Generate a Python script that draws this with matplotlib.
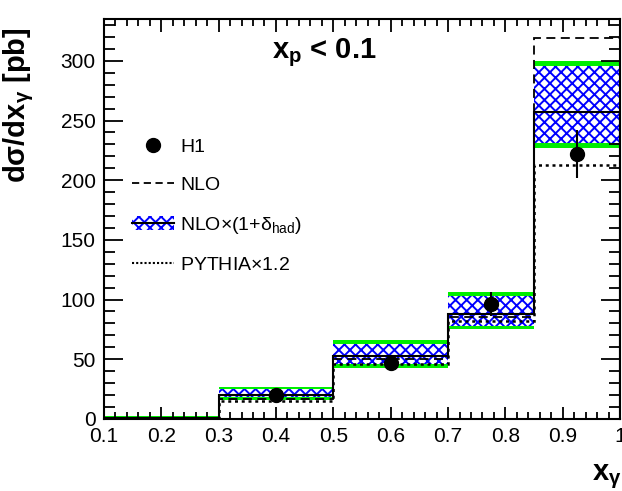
import matplotlib
matplotlib.use("Agg")
import matplotlib.pyplot as plt
from matplotlib.lines import Line2D
from matplotlib.patches import Patch
from matplotlib.ticker import MultipleLocator

plt.rcParams['font.family'] = ['Liberation Sans', 'DejaVu Sans']
plt.rcParams['hatch.linewidth'] = 1.4
plt.rcParams['mathtext.fontset'] = 'custom'
plt.rcParams['mathtext.rm'] = 'Liberation Sans'
plt.rcParams['mathtext.it'] = 'Liberation Sans'
plt.rcParams['mathtext.bf'] = 'Liberation Sans:bold'

# --------- DATA ---------
bin_edges = [0.1, 0.3, 0.5, 0.7, 0.85, 1.0]
nlo = [1, 17, 50, 85, 319]
nlo_had = [1, 20, 53, 88, 257]
nlo_had_lo = [0, 16, 43, 75, 227]
nlo_had_hi = [2, 27, 66, 106, 300]
nlo_had_lo_in = [0.5, 18, 46, 78, 231]
nlo_had_hi_in = [1.5, 25, 63, 103, 296]
pythia = [1, 15, 46, 82, 213]

h1_x = [0.4, 0.6, 0.775, 0.925]
h1_y = [20, 47, 96, 222]
h1_err = [3, 4, 10, 20]

# --------- PLOT ---------
fig = plt.figure(figsize=(6.22, 4.91), dpi=100)
ax = fig.add_axes([0.167, 0.147, 0.83, 0.814])

ax.stairs(nlo_had_hi, bin_edges, baseline=nlo_had_lo, fill=True,
          color='#00ee00', linewidth=0, zorder=1)
ax.stairs(nlo_had_hi_in, bin_edges, baseline=nlo_had_lo_in, fill=True,
          facecolor='white', edgecolor='blue', hatch='xxx', linewidth=0, zorder=2)
ax.stairs(nlo_had, bin_edges, color='black', linewidth=1.5, zorder=3)
ax.stairs(nlo, bin_edges, color='black', linestyle=(0, (5, 3)), linewidth=1.3, zorder=4)
ax.stairs(pythia, bin_edges, color='black', linestyle=(0, (1.2, 1.5)), linewidth=1.8, zorder=4)

ax.errorbar(h1_x, h1_y, yerr=h1_err, fmt='o', color='black', markersize=10,
            elinewidth=1.5, capsize=0, zorder=5)

ax.set_xlim(0.1, 1.0)
ax.set_ylim(0, 335)
ax.xaxis.set_minor_locator(MultipleLocator(0.02))
ax.yaxis.set_major_locator(MultipleLocator(50))
ax.yaxis.set_minor_locator(MultipleLocator(10))
ax.set_xticks([0.1, 0.2, 0.3, 0.4, 0.5, 0.6, 0.7, 0.8, 0.9, 1.0])
ax.set_xticklabels(['0.1', '0.2', '0.3', '0.4', '0.5', '0.6', '0.7', '0.8', '0.9', '1'])
ax.tick_params(axis='both', which='both', direction='in', top=True, right=True,
               labelsize=15, width=1.3)
ax.tick_params(axis='x', which='major', length=9, pad=6)
ax.tick_params(axis='x', which='minor', length=5)
ax.tick_params(axis='y', which='major', length=14, pad=6)
ax.tick_params(axis='y', which='minor', length=8)
for s in ax.spines.values():
    s.set_linewidth(1.5)

ax.set_ylabel(r'$\mathbf{d\sigma/dx_{\gamma}}$ [pb]', fontsize=21, fontweight='bold')
ax.yaxis.set_label_coords(-0.132, 0.785)
ax.set_xlabel(r'$\mathbf{x_{\gamma}}$', fontsize=21)
ax.xaxis.set_label_coords(0.975, -0.11)

ax.text(0.426, 0.915, r'$\mathbf{x_{p}}$ < 0.1', transform=ax.transAxes,
        fontsize=21, fontweight='bold', ha='center', va='center')

handles = [
    Line2D([], [], marker='o', color='black', linestyle='none', markersize=10),
    Line2D([], [], color='black', linestyle=(0, (4, 2.5)), linewidth=1.3),
    (Patch(facecolor='#00ee00', linewidth=0),
     Patch(facecolor='white', edgecolor='blue', hatch='xxx', linewidth=0),
     Line2D([], [], color='black', linewidth=1.5)),
    Line2D([], [], color='black', linestyle=(0, (1, 1)), linewidth=1.5),
]
labels = ['H1', 'NLO', r'NLO$\times$(1+$\delta_{\mathrm{had}}$)', r'PYTHIA$\times$1.2']
ax.legend(handles, labels, loc='upper left', bbox_to_anchor=(0.02, 0.745),
          frameon=False, fontsize=14, handlelength=2.2, handletextpad=0.3,
          labelspacing=1.05)

fig.savefig('out.png', dpi=100)
